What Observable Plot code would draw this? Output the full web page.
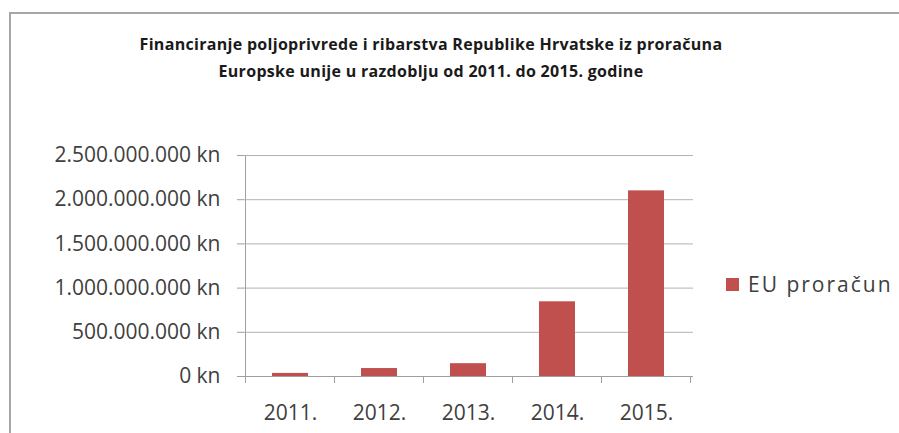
<!DOCTYPE html>
<html><head><meta charset="utf-8">
<script src="https://cdn.jsdelivr.net/npm/d3@7"></script>
<script src="https://cdn.jsdelivr.net/npm/@observablehq/plot@0.6"></script>
<style>
body{margin:0;background:#fff;}
#wrap{position:relative;width:899px;height:433px;overflow:hidden;font-family:"Open Sans",sans-serif;}
#frame{position:absolute;left:9px;top:12px;width:900px;height:430px;border-left:2px solid #a6a6a6;border-top:2px solid #a6a6a6;}
#title{position:absolute;left:0;width:862px;top:31px;text-align:center;font-weight:bold;font-size:16px;letter-spacing:0.3px;line-height:27px;color:#1a1a1a;}
#legend{position:absolute;left:726px;top:270px;display:flex;align-items:center;font-size:21px;letter-spacing:2px;color:#404040;}
#legend .sw{width:13px;height:13px;margin-right:9px;}
#chart{position:absolute;left:0;top:0;}
</style></head>
<body>
<div id="wrap">
  <div id="frame"></div>
  <div id="chart"></div>
  <div id="title">Financiranje poljoprivrede i ribarstva Republike Hrvatske iz proračuna<br>Europske unije u razdoblju od 2011. do 2015. godine</div>
  <div id="legend"><div class="sw"></div><span id="legtext"></span></div>
</div>
<script>
const years = ["2011.", "2012.", "2013.", "2014.", "2015."];
const values = [35e6, 90e6, 145e6, 845e6, 2100e6];
const yTicks = [0, 5e8, 1e9, 1.5e9, 2e9, 2.5e9];
const seriesName = "EU proračun";
const barColor = "#c0504d";

const data = years.map((y, i) => ({year: y, value: values[i]}));
const hr = d3.formatLocale({decimal: ",", thousands: ".", grouping: [3], currency: ["", " kn"]});
const fmt = v => hr.format(",d")(v) + " kn";

const plot = Plot.plot({
  width: 899, height: 433,
  marginLeft: 244, marginRight: 206, marginTop: 155, marginBottom: 57,
  style: {background: "transparent", fontFamily: "Open Sans, sans-serif"},
  x: {domain: years, paddingInner: 0.59, paddingOuter: 0.295, axis: null, label: null},
  y: {domain: [0, 2.5e9], axis: null, label: null},
  marks: [
    Plot.gridY(yTicks, {stroke: "#b3b3b3", strokeOpacity: 1}),
    Plot.barY(data, {x: "year", y: "value", fill: barColor}),
    Plot.ruleY([0], {stroke: "#a0a0a0"}),
    Plot.axisY(yTicks, {label: null, tickSize: 7, tickPadding: 17, tickFormat: fmt, fontSize: 21, fill: "#404040", stroke: "#a0a0a0", letterSpacing: 2}),
    Plot.axisX({label: null, tickSize: 0, tickPadding: 29, fontSize: 21, fill: "#404040", letterSpacing: 2})
  ]
});
document.getElementById("chart").appendChild(plot);

// y-axis domain line and category boundary ticks, from the plot's own scales
const xs = plot.scale("x"), ys = plot.scale("y");
const svg = d3.select(plot);
const y0 = ys.apply(0), yTop = ys.apply(2.5e9);
const gap = (xs.step - xs.bandwidth) / 2;
const bounds = years.map(y => xs.apply(y) - gap).concat([xs.apply(years[years.length - 1]) + xs.bandwidth + gap]);
const g = svg.append("g").attr("stroke", "#a0a0a0");
g.append("line").attr("x1", bounds[0]).attr("x2", bounds[0]).attr("y1", yTop).attr("y2", y0);
g.selectAll("line.bt").data(bounds).join("line").attr("class", "bt")
  .attr("x1", d => d).attr("x2", d => d).attr("y1", y0).attr("y2", y0 + 7);

document.querySelector("#legend .sw").style.background = barColor;
document.getElementById("legtext").textContent = seriesName;
</script>
</body></html>
